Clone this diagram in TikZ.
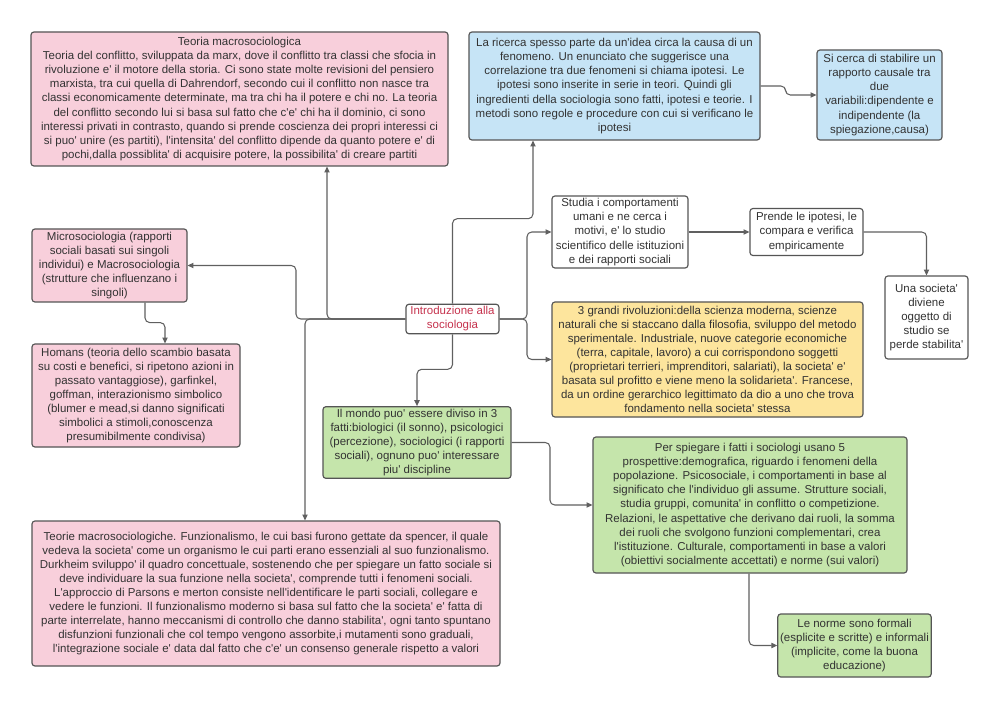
\documentclass[tikz,border=0pt]{standalone}
\usepackage{fontspec}
\setmainfont{Liberation Sans}[Ligatures=TeXOff]
\usetikzlibrary{arrows.meta,calc}
\definecolor{pinkfill}{HTML}{F8CFDB}
\definecolor{bluefill}{HTML}{C6E4F6}
\definecolor{yellowfill}{HTML}{FDE59D}
\definecolor{greenfill}{HTML}{C5E5AB}
\definecolor{boxline}{HTML}{555555}
\definecolor{linkgray}{HTML}{606060}
\definecolor{boxtext}{HTML}{333333}
\definecolor{introred}{HTML}{C6334E}

\begin{document}
\begin{tikzpicture}[x=0.03cm, y=-0.03cm,
  box/.style={draw=boxline, line width=1pt, rounded corners=2.5pt, align=center, inner sep=2pt, text=boxtext, font=\fontsize{9.8}{12}\selectfont},
  boxsize/.style 2 args={minimum width=#1*0.03cm, minimum height=#2*0.03cm},
  pinkbox/.style={box, fill=pinkfill},
  bluebox/.style={box, fill=bluefill},
  yellowbox/.style={box, fill=yellowfill},
  greenbox/.style={box, fill=greenfill},
  whitebox/.style={box, fill=white},
  link/.style={draw=linkgray, line width=0.9pt, rounded corners=4pt, -{Triangle[length=5pt,width=4.5pt]}}]
\path[fill=white] (0,0) rectangle (1000,709);
\useasboundingbox (0,0) rectangle (1000,709);

\node[pinkbox, boxsize={417}{134}] (macro) at (239.5,99) {Teoria macrosociologica\\
Teoria del conflitto, sviluppata da marx, dove il conflitto tra classi che sfocia in\\
rivoluzione e' il motore della storia. Ci sono state molte revisioni del pensiero\\
marxista, tra cui quella di Dahrendorf, secondo cui il conflitto non nasce tra\\
classi economicamente determinate, ma tra chi ha il potere e chi no. La teoria\\
del conflitto secondo lui si basa sul fatto che c'e' chi ha il dominio, ci sono\\
interessi privati in contrasto, quando si prende coscienza dei propri interessi ci\\
si puo' unire (es partiti), l'intensita' del conflitto dipende da quanto potere e' di\\
pochi,dalla possiblita' di acquisire potere, la possibilita' di creare partiti};
\node[bluebox, boxsize={291}{108}] (ricerca) at (614.5,86) {La ricerca spesso parte da un'idea circa la causa di un\\
fenomeno. Un enunciato che suggerisce una\\
correlazione tra due fenomeni si chiama ipotesi. Le\\
ipotesi sono inserite in serie in teori. Quindi gli\\
ingredienti della sociologia sono fatti, ipotesi e teorie. I\\
metodi sono regole e procedure con cui si verificano le\\
ipotesi};
\node[bluebox, boxsize={125}{90}] (causale) at (879.5,95) {Si cerca di stabilire un\\
rapporto causale tra\\
due\\
variabili:dipendente e\\
indipendente (la\\
spiegazione,causa)};
\node[whitebox, boxsize={136}{72}] (studia) at (620,232) {Studia i comportamenti\\
umani e ne cerca i\\
motivi, e' lo studio\\
scientifico delle istituzioni\\
e dei rapporti sociali};
\node[whitebox, boxsize={113}{47}] (prende) at (806.5,232) {Prende le ipotesi, le\\
compara e verifica\\
empiricamente};
\node[whitebox, boxsize={83}{83}] (stabilita) at (926.5,317.5) {Una societa'\\
diviene\\
oggetto di\\
studio se\\
perde stabilita'};
\node[pinkbox, boxsize={155}{73}] (micro) at (109.5,265.5) {Microsociologia (rapporti\\
sociali basati sui singoli\\
individui) e Macrosociologia\\
(strutture che influenzano i\\
singoli)};
\node[pinkbox, boxsize={208}{103}] (homans) at (136,395.5) {Homans (teoria dello scambio basata\\
su costi e benefici, si ripetono azioni in\\
passato vantaggiose), garfinkel,\\
goffman, interazionismo simbolico\\
(blumer e mead,si danno significati\\
simbolici a stimoli,conoscenza\\
presumibilmente condivisa)};
\node[whitebox, text=introred, boxsize={93}{28}] (intro) at (452.5,319) {Introduzione alla\\ sociologia};
\node[yellowbox, boxsize={311}{115}] (rivoluzioni) at (707.5,359.5) {3 grandi rivoluzioni:della scienza moderna, scienze\\
naturali che si staccano dalla filosofia, sviluppo del metodo\\
sperimentale. Industriale, nuove categorie economiche\\
(terra, capitale, lavoro) a cui corrispondono soggetti\\
(proprietari terrieri, imprenditori, salariati), la societa' e'\\
basata sul profitto e viene meno la solidarieta'. Francese,\\
da un ordine gerarchico legittimato da dio a uno che trova\\
fondamento nella societa' stessa};
\node[greenbox, boxsize={188}{71}] (mondo) at (417,442.5) {Il mondo puo' essere diviso in 3\\
fatti:biologici (il sonno), psicologici\\
(percezione), sociologici (i rapporti\\
sociali), ognuno puo' interessare\\
piu' discipline};
\node[greenbox, boxsize={314}{136}] (prospettive) at (750,505) {Per spiegare i fatti i sociologi usano 5\\
prospettive:demografica, riguardo i fenomeni della\\
popolazione. Psicosociale, i comportamenti in base al\\
significato che l'individuo gli assume. Strutture sociali,\\
studia gruppi, comunita' in conflitto o competizione.\\
Relazioni, le aspettative che derivano dai ruoli, la somma\\
dei ruoli che svolgono funzioni complementari, crea\\
l'istituzione. Culturale, comportamenti in base a valori\\
(obiettivi socialmente accettati) e norme (sui valori)};
\node[greenbox, boxsize={147}{63}] (norme) at (854.5,645.5) {Le norme sono formali\\
(esplicite e scritte) e informali\\
(implicite, come la buona\\
educazione)};
\node[pinkbox, boxsize={468}{145}] (funzionalismo) at (266,593.5) {Teorie macrosociologiche. Funzionalismo, le cui basi furono gettate da spencer, il quale\\
vedeva la societa' come un organismo le cui parti erano essenziali al suo funzionalismo.\\
Durkheim sviluppo' il quadro concettuale, sostenendo che per spiegare un fatto sociale si\\
deve individuare la sua funzione nella societa', comprende tutti i fenomeni sociali.\\
L'approccio di Parsons e merton consiste nell'identificare le parti sociali, collegare e\\
vedere le funzioni. Il funzionalismo moderno si basa sul fatto che la societa' e' fatta di\\
parte interrelate, hanno meccanismi di controllo che danno stabilita', ogni tanto spuntano\\
disfunzioni funzionali che col tempo vengono assorbite,i mutamenti sono graduali,\\
l'integrazione sociale e' data dal fatto che c'e' un consenso generale rispetto a valori};

\draw[link] (intro.west) -| (327,0 |- macro.south);
\draw[link] (intro.west) -| (296,0 |- micro.east) -- (micro.east);
\draw[link] (intro.west) -| (305,0 |- funzionalismo.north);
\draw[link] (intro.east) -| (527,0 |- studia.west) -- (studia.west);
\draw[link] (intro.east) -| (527,0 |- rivoluzioni.west) -- (rivoluzioni.west);
\draw[link] (intro.north) -- ++(0,-85) -| (533,0 |- ricerca.south);
\draw[link] (intro.south) -- ++(0,35) -| (mondo.north);
\draw[link] (mondo.east) -| (550,0 |- prospettive.west) -- (prospettive.west);
\draw[link] (749,0 |- prospettive.south) |- (norme.west);
\draw[link] (145,0 |- micro.south) -- ++(0,20) -| (165,0 |- homans.north);
\draw[link] (ricerca.east) -- ++(25,0) |- (causale.west);
\draw[link] (studia) -- (prende);
\draw[link] (prende.east) -| (stabilita.north);
\end{tikzpicture}
\end{document}
